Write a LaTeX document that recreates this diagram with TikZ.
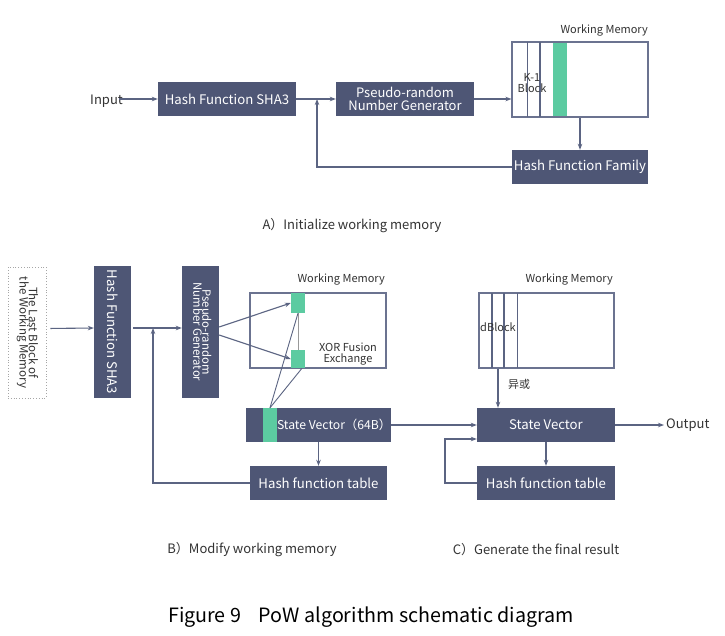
\documentclass[tikz,border=0pt]{standalone}
\usepackage{fontspec}
\usepackage{graphicx}
\setmainfont{Noto Sans CJK SC}
\usetikzlibrary{arrows.meta}
\definecolor{boxc}{HTML}{4E5675}
\definecolor{linec}{HTML}{5B6482}
\definecolor{memc}{HTML}{6B7390}
\definecolor{greenc}{HTML}{5CCBA1}
\definecolor{txtc}{HTML}{333333}
\begin{document}
\begin{tikzpicture}[x=1pt,y=-1pt,
  box/.style={fill=boxc, text=white, inner sep=0pt, align=center, font=\fontsize{13.2}{14}\selectfont},
  membox/.style={draw=memc, line width=1.1pt, inner sep=0pt},
  gbox/.style={fill=greenc, inner sep=0pt},
  lbl/.style={text=txtc, inner sep=0pt, font=\fontsize{11}{12}\selectfont},
  captxt/.style={text=txtc, inner sep=0pt, font=\fontsize{13}{14}\selectfont},
  arr/.style={draw=linec, line width=1.1pt, -{Stealth[length=6pt,width=4.5pt]}},
  ln/.style={draw=linec, line width=1.1pt}]
\fill[white] (0,0) rectangle (725,635);
\useasboundingbox (0,0) rectangle (725,635);

% ---------- Part A ----------
\node[box, minimum width=138pt, minimum height=34pt] (shaA) at (227,99) {Hash Function SHA3};
\node[box, minimum width=138pt, minimum height=34pt, font=\fontsize{13}{12.5}\selectfont] (prngA) at (405,99) {Pseudo-random\\Number Generator};
\fill[greenc] (553,42) rectangle (567,117);
\node[membox, minimum width=136pt, minimum height=75pt] (memA) at (580,79.5) {};
\draw[ln, line width=0.9pt] (527,42) -- (527,117);
\draw[ln, line width=1.8pt] (540,42) -- (540,117);
\node[lbl, align=center, font=\fontsize{11}{11}\selectfont] (kblk) at (532,83) {K-1\\Block};
\node[lbl, anchor=east] (wmA) at (648,30) {Working Memory};
\node[box, minimum width=136pt, minimum height=34pt] (hff) at (580,167) {Hash Function Family};
\node[text=txtc, inner sep=0pt, anchor=east, font=\fontsize{13}{14}\selectfont] (inp) at (123,101) {Input};
\coordinate (jA) at (317,99);

\draw[arr] ([xshift=-4pt]inp.east |- shaA.west) -- (shaA.west);
\draw[arr] (shaA.east) -- (prngA.west);
\draw[arr] (prngA.east) -- (prngA.east -| memA.west);
\draw[arr] (memA.south) -- (hff.north);
\draw[arr] (hff.west) -| (jA);

\node[captxt] (capA) at (352,226) {A）Initialize working memory};

% ---------- Part B ----------
\node[draw=gray!70, dotted, line width=0.8pt, minimum width=38pt, minimum height=131pt, inner sep=0pt, text=txtc, font=\fontsize{11.5}{12}\selectfont] (last) at (27,332.5)
  {\rotatebox[origin=c]{-90}{\begin{tabular}{@{}c@{}}The Last Block of\\[-3.5pt]the Working Memory\end{tabular}}};
\node[box, minimum width=37pt, minimum height=132pt] (shaB) at (112.5,332)
  {\rotatebox[origin=c]{-90}{Hash Function SHA3}};
\node[box, minimum width=37pt, minimum height=132pt, font=\fontsize{11.3}{12}\selectfont] (prngB) at (200.5,332)
  {\rotatebox[origin=c]{-90}{\begin{tabular}{@{}c@{}}Pseudo-random\\[-3.5pt]Number Generator\end{tabular}}};
\node[membox, minimum width=136pt, minimum height=75pt] (memB) at (318,330.5) {};
\node[lbl, anchor=east] (wmB) at (385,279) {Working Memory};
\node[gbox, minimum width=14pt, minimum height=20pt] (g1) at (298,303) {};
\node[gbox, minimum width=14pt, minimum height=18pt] (g2) at (298,359) {};
\node[lbl, align=center, font=\fontsize{11}{10.5}\selectfont] (xor) at (348,354) {XOR Fusion\\Exchange};
\node[box, minimum width=137pt, minimum height=34pt, font=\fontsize{12.2}{14}\selectfont] (svB) at (318.5,425) {\hspace*{31pt}State Vector（64B）};
\node[gbox, minimum width=14pt, minimum height=34pt] (gsv) at (270,425) {};
\node[box, minimum width=137pt, minimum height=34pt] (hftB) at (318.5,483) {Hash function table};
\coordinate (jB) at (153,328);

\draw[arr, shorten <=4pt] ([yshift=4pt]last.east) -- ([yshift=4pt]shaB.west);
\draw[arr, shorten <=2pt] ([yshift=4pt]shaB.east) -- ([yshift=4pt]prngB.west);
\draw[arr] ([yshift=5pt]prngB.east) -- (g1.west);
\draw[arr] ([yshift=-3pt]prngB.east) -- (g2.west);
\draw[draw=gray!80, line width=1pt] (g1.south) -- (g2.north);
\draw[ln, line width=0.9pt] (g1.south) -- (gsv.north);
\draw[ln, line width=0.9pt] ([xshift=4pt]g2.south) -- (gsv.north);
\draw[arr] (svB.south) -- (hftB.north);
\draw[arr] (hftB.west) -| (jB);

\node[captxt] (capB) at (252,550) {B）Modify working memory};

% ---------- Part C ----------
\node[membox, minimum width=135pt, minimum height=75pt] (memC) at (546.5,330.5) {};
\draw[ln, line width=1.8pt] (492,293) -- (492,368);
\draw[ln, line width=1.8pt] (504,293) -- (504,368);
\draw[ln, line width=0.9pt] (517,293) -- (517,368);
\node[lbl, font=\fontsize{11}{11}\selectfont] (dblk) at (498,327) {dBlock};
\node[lbl, anchor=east] (wmC) at (613,279) {Working Memory};
\node[box, minimum width=138pt, minimum height=34pt] (svC) at (546,425) {State Vector};
\node[box, minimum width=138pt, minimum height=34pt] (hftC) at (546,483) {Hash function table};
\node[text=txtc, inner sep=0pt, anchor=west, font=\fontsize{13}{14}\selectfont] (outp) at (666,425) {Output};
\node[lbl] (xorc) at (519,384) {异或};
\coordinate (fbC) at (445,483);

\draw[arr] (memC.south -| 498,0) -- (svC.north -| 498,0);
\draw[arr] (svB.east) -- (svC.west);
\draw[arr] (svC.east) -- ([xshift=-2pt]outp.west);
\draw[arr] (svC.south) -- (hftC.north);
\draw[arr] (hftC.west) -- (fbC) |- ([yshift=-14pt]svC.west);

\node[captxt] (capC) at (536,550) {C）Generate the final result};

\node[text=black, inner sep=0pt, font=\fontsize{19.7}{21}\selectfont] (fig) at (371,617) {Figure 9\hspace{0.9em}PoW algorithm schematic diagram};
\end{tikzpicture}
\end{document}
